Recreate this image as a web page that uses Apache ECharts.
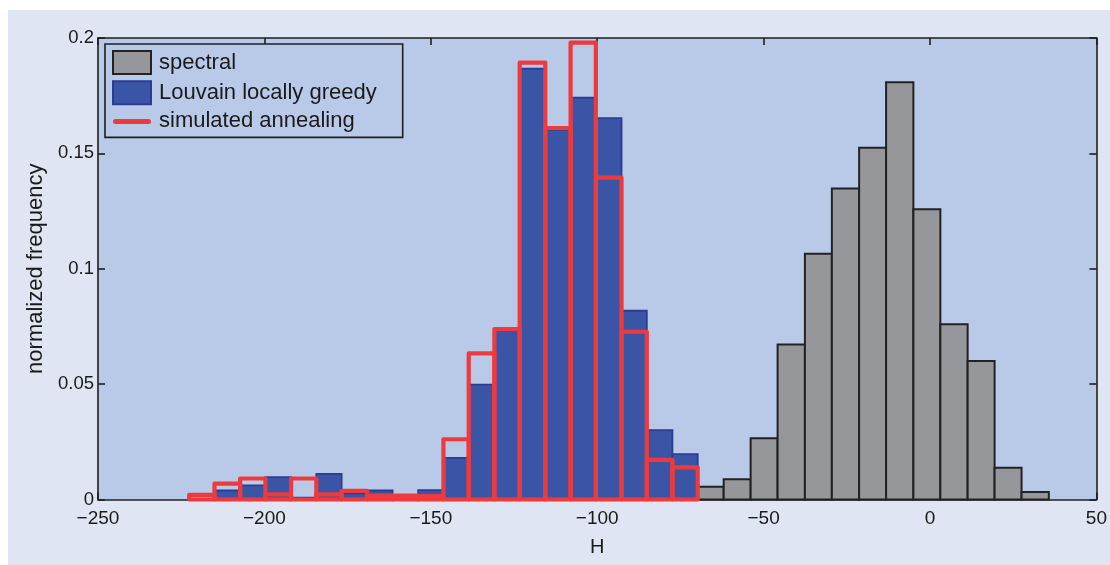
<!DOCTYPE html>
<html>
<head>
<meta charset="utf-8">
<script src="https://cdn.jsdelivr.net/npm/echarts@6/dist/echarts.min.js"></script>
<style>
  html, body { margin: 0; padding: 0; background: #ffffff; }
  #chart { width: 1110px; height: 565px; }
</style>
</head>
<body>
<div id="chart"></div>
<script>
// Histogram of H for three community-detection methods.

// spectral: bin edges (13 bins) and normalized frequencies
const spectralEdges = [-70.2, -62.0, -53.9, -45.8, -37.6, -29.5, -21.3, -13.2, -5.0, 3.1, 11.3, 19.4, 27.5, 35.7];
const spectralFreq  = [0.0055, 0.0088, 0.0265, 0.0672, 0.1065, 0.1348, 0.1524, 0.1808, 0.1258, 0.0760, 0.0600, 0.0138, 0.0033];

// Louvain locally greedy and simulated annealing share these bin edges (20 bins)
const sharedEdges = [-222.6, -215.0, -207.3, -199.7, -192.0, -184.4, -176.8, -169.1, -161.5, -153.8,
                     -146.2, -138.6, -130.9, -123.3, -115.6, -108.0, -100.4, -92.7, -85.1, -77.4, -69.8];
const louvainFreq   = [0.0000, 0.0039, 0.0061, 0.0097, 0.0008, 0.0111, 0.0027, 0.0039, 0.0006, 0.0041,
                       0.0180, 0.0498, 0.0735, 0.1867, 0.1603, 0.1741, 0.1653, 0.0818, 0.0301, 0.0197];
const annealingFreq = [0.0020, 0.0069, 0.0091, 0.0022, 0.0091, 0.0022, 0.0037, 0.0017, 0.0017, 0.0015,
                       0.0261, 0.0633, 0.0739, 0.1893, 0.1610, 0.1980, 0.1395, 0.0727, 0.0172, 0.0139];

// axis ranges and tick labels
const xRange = [-250, 50];
const xStep = 50;
const yRange = [0, 0.2];
const yStep = 0.05;
const seriesNames = ['spectral', 'Louvain locally greedy', 'simulated annealing'];

function toBins(edges, freq) {
  return freq.map((f, i) => [edges[i], edges[i + 1], f]);
}

const minus = v => String(v).replace('-', '\u2212');

function barRenderer(styleFn) {
  return function (params, api) {
    const x0 = api.value(0), x1 = api.value(1), y = api.value(2);
    const topLeft = api.coord([x0, y]);
    const bottomRight = api.coord([x1, 0]);
    return {
      type: 'rect',
      shape: {
        x: topLeft[0],
        y: topLeft[1],
        width: bottomRight[0] - topLeft[0],
        height: bottomRight[1] - topLeft[1]
      },
      style: styleFn()
    };
  };
}

const chart = echarts.init(document.getElementById('chart'), null, { renderer: 'canvas' });

const fontFamily = 'Liberation Sans, Arial, sans-serif';
const axisLineStyle = { color: '#1f1f1f', width: 1.6 };

chart.setOption({
  animation: false,
  backgroundColor: '#ffffff',
  graphic: [
    { type: 'rect', z: -10, shape: { x: 8, y: 10, width: 1102, height: 555 }, style: { fill: '#dfe5f3' } }
  ],
  grid: {
    left: 98, top: 38, width: 1000, height: 461.5,
    show: true, backgroundColor: '#b9c9e8', borderWidth: 0
  },
  legend: {
    orient: 'vertical',
    left: 105, top: 44,
    padding: [6, 26, 5, 7],
    itemGap: 5.2,
    itemWidth: 38, itemHeight: 23,
    backgroundColor: '#b9c9e8',
    borderColor: '#1f1f1f', borderWidth: 1.6, borderRadius: 0,
    textStyle: { color: '#1a1a1a', fontSize: 22, fontFamily: fontFamily, padding: [0, 0, 0, 3] },
    selectedMode: false,
    data: [
      { name: seriesNames[0], icon: 'rect', itemStyle: { color: '#96979b', borderColor: '#222222', borderWidth: 2 } },
      { name: seriesNames[1], icon: 'rect', itemStyle: { color: '#3a55a5', borderColor: '#2a3c96', borderWidth: 2 } },
      { name: seriesNames[2], icon: 'path://M2.5,0 H35.5 A2.5,2.5 0 0 1 35.5,5 H2.5 A2.5,2.5 0 0 1 2.5,0 Z',
        itemStyle: { color: '#ef3a3d', borderWidth: 0 } }
    ]
  },
  xAxis: [
    {
      type: 'value', min: xRange[0], max: xRange[1], interval: xStep,
      name: 'H', nameLocation: 'middle', nameGap: 38,
      nameTextStyle: { color: '#1a1a1a', fontSize: 20, fontFamily: fontFamily },
      axisLine: { show: true, onZero: false, lineStyle: axisLineStyle },
      axisTick: { show: true, inside: true, length: 7, lineStyle: axisLineStyle },
      axisLabel: { color: '#1a1a1a', fontSize: 19, fontFamily: fontFamily, margin: 10, formatter: minus },
      splitLine: { show: false }
    },
    {
      type: 'value', position: 'top', min: xRange[0], max: xRange[1], interval: xStep,
      axisLine: { show: true, onZero: false, lineStyle: axisLineStyle },
      axisTick: { show: true, inside: true, length: 7, lineStyle: axisLineStyle },
      axisLabel: { show: false },
      splitLine: { show: false }
    }
  ],
  yAxis: [
    {
      type: 'value', min: yRange[0], max: yRange[1], interval: yStep,
      name: 'normalized frequency', nameLocation: 'middle', nameGap: 47,
      nameTextStyle: { color: '#1a1a1a', fontSize: 22, fontFamily: fontFamily },
      axisLine: { show: true, onZero: false, lineStyle: axisLineStyle },
      axisTick: { show: true, inside: true, length: 7, lineStyle: axisLineStyle },
      axisLabel: { color: '#1a1a1a', fontSize: 18.5, fontFamily: fontFamily, margin: 4 },
      splitLine: { show: false }
    },
    {
      type: 'value', position: 'right', min: yRange[0], max: yRange[1], interval: yStep,
      axisLine: { show: true, onZero: false, lineStyle: axisLineStyle },
      axisTick: { show: true, inside: true, length: 7, lineStyle: axisLineStyle },
      axisLabel: { show: false },
      splitLine: { show: false }
    }
  ],
  series: [
    {
      name: seriesNames[0], type: 'custom', xAxisIndex: 0, yAxisIndex: 0,
      encode: { x: [0, 1], y: 2 },
      itemStyle: { color: '#96979b' },
      data: toBins(spectralEdges, spectralFreq),
      renderItem: barRenderer(() => ({ fill: '#96979b', stroke: '#222222', lineWidth: 2 }))
    },
    {
      name: seriesNames[1], type: 'custom', xAxisIndex: 0, yAxisIndex: 0,
      encode: { x: [0, 1], y: 2 },
      itemStyle: { color: '#3a55a5' },
      data: toBins(sharedEdges, louvainFreq),
      renderItem: barRenderer(() => ({ fill: '#3a55a5', stroke: '#2a3c96', lineWidth: 1.8 }))
    },
    {
      name: seriesNames[2], type: 'custom', xAxisIndex: 0, yAxisIndex: 0,
      encode: { x: [0, 1], y: 2 },
      itemStyle: { color: '#ef3a3d' },
      data: toBins(sharedEdges, annealingFreq),
      renderItem: barRenderer(() => ({ fill: 'none', stroke: '#ef3a3d', lineWidth: 4.2, lineJoin: 'round' }))
    }
  ]
});
</script>
</body>
</html>
